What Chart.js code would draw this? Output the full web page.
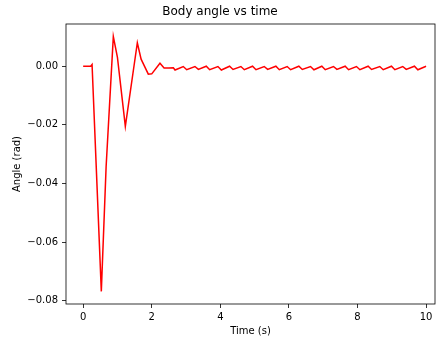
<!DOCTYPE html>
<html>
<head>
<meta charset="utf-8">
<script src="https://cdn.jsdelivr.net/npm/chart.js@4/dist/chart.umd.min.js"></script>
<style>
  html, body { margin: 0; padding: 0; background: #fff; }
  #wrap { width: 436px; height: 340px; }
</style>
</head>
<body>
<div id="wrap"><canvas id="myChart" width="436" height="340"></canvas></div>
<script>
// time samples (s)
const timeS = [
  0, 0.12, 0.22, 0.26, 0.53, 0.67, 0.88, 1.0, 1.23, 1.58, 1.69, 1.9, 2.0,
  2.24, 2.36, 2.5, 2.63, 2.68,
  2.92, 3.02, 3.26, 3.36, 3.59, 3.69, 3.93, 4.03, 4.27, 4.37, 4.6, 4.7,
  4.94, 5.04, 5.28, 5.38, 5.62, 5.72, 5.95, 6.05, 6.29, 6.39, 6.63, 6.73,
  6.96, 7.06, 7.3, 7.4, 7.64, 7.74, 7.97, 8.07, 8.31, 8.41, 8.65, 8.75,
  8.99, 9.09, 9.32, 9.42, 9.66, 9.76, 10.0
];
// body angle (rad)
const angleRad = [
  0, 0, 0, 0.0006, -0.0768, -0.0342, 0.0101, 0.003, -0.0205, 0.008, 0.0024, -0.0027, -0.0026,
  0.001, -0.0006, -0.0006, -0.0005, -0.0013,
  -0.0001, -0.0012, -0.0001, -0.0011, 0.0, -0.0012, -0.0001, -0.0013, 0.0, -0.0011, -0.0001, -0.0012,
  0.0, -0.0012, -0.0001, -0.0011, 0.0, -0.0012, -0.0001, -0.0012, 0.0, -0.0011, -0.0001, -0.0012,
  0.0, -0.0012, -0.0001, -0.0011, 0.0, -0.0012, -0.0001, -0.0012, 0.0, -0.0011, -0.0001, -0.0012,
  0.0, -0.0012, -0.0001, -0.0011, 0.0, -0.0012, 0.0
];
const xTicks = [0, 2, 4, 6, 8, 10];
const yTicks = [-0.08, -0.06, -0.04, -0.02, 0.0];

const points = timeS.map((t, i) => ({ x: t, y: angleRad[i] }));

const FONT = "'DejaVu Sans', sans-serif";

// matplotlib style box around the plot + title
const framePlugin = {
  id: "frame",
  afterDraw(chart) {
    const { ctx, chartArea } = chart;
    ctx.save();
    ctx.strokeStyle = "#000";
    ctx.lineWidth = 0.8;
    ctx.strokeRect(chartArea.left, chartArea.top, chartArea.right - chartArea.left, chartArea.bottom - chartArea.top);
    ctx.fillStyle = "#000";
    ctx.font = "12px " + FONT;
    ctx.textAlign = "center";
    ctx.textBaseline = "middle";
    ctx.fillText("Body angle vs time", 220, 12);
    ctx.restore();
  },
};

new Chart(document.getElementById("myChart"), {
  type: "line",
  data: {
    datasets: [
      {
        label: "angle",
        data: points,
        borderColor: "#ff0000",
        borderWidth: 1.5,
        pointRadius: 0,
        tension: 0,
        fill: false,
      },
    ],
  },
  options: {
    responsive: false,
    animation: false,
    layout: { padding: { top: 24, right: 1, left: 0, bottom: 0 } },
    plugins: { legend: { display: false }, tooltip: { enabled: false }, title: { display: false } },
    scales: {
      x: {
        type: "linear",
        min: -0.5,
        max: 10.26,
        afterFit: (s) => { s.height = 36; },
        afterBuildTicks: (s) => { s.ticks = xTicks.map((v) => ({ value: v })); },
        grid: { drawOnChartArea: false, color: "#000", tickLength: 4, tickWidth: 0.8 },
        border: { display: false },
        ticks: { color: "#000", padding: 3, font: { family: FONT, size: 10 }, maxRotation: 0,
          callback: (v) => String(v) },
        title: { display: true, text: "Time (s)", color: "#000", font: { family: FONT, size: 10 }, padding: { top: 0, bottom: 3 } },
      },
      y: {
        min: -0.0811,
        max: 0.0144,
        afterFit: (s) => { s.width = 66; },
        afterBuildTicks: (s) => { s.ticks = yTicks.map((v) => ({ value: v })); },
        grid: { drawOnChartArea: false, color: "#000", tickLength: 4, tickWidth: 0.8 },
        border: { display: false },
        ticks: { color: "#000", padding: 4, font: { family: FONT, size: 10 },
          callback: (v) => v.toFixed(2).replace("-", "\u2212") },
        title: { display: true, text: "Angle (rad)", color: "#000", font: { family: FONT, size: 10 }, padding: { top: 11, bottom: 0 } },
      },
    },
  },
  plugins: [framePlugin],
});
</script>
</body>
</html>
